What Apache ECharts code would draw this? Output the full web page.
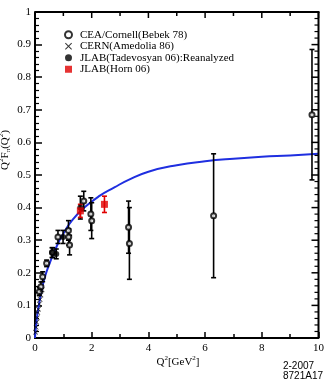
<!DOCTYPE html>
<html>
<head>
<meta charset="utf-8">
<script src="https://cdn.jsdelivr.net/npm/echarts@6/dist/echarts.min.js"></script>
<style>
  html, body { margin: 0; padding: 0; background: #fff; }
  #chart { width: 327px; height: 385px; }
</style>
</head>
<body>
<div id="chart"></div>
<script>
// CEA/Cornell (Bebek 78): Q2, Q2*F, error
const ceaQ2 = [0.15, 0.21, 0.27, 0.41, 0.62, 0.81, 1.18, 1.19, 1.22, 1.72, 1.97, 2.0, 3.3, 3.33, 6.3, 9.77];
const ceaF = [0.142, 0.157, 0.188, 0.229, 0.262, 0.31, 0.33, 0.31, 0.285, 0.42, 0.38, 0.36, 0.34, 0.29, 0.375, 0.685];
const ceaErr = [0.012, 0.015, 0.015, 0.01, 0.015, 0.02, 0.03, 0.025, 0.03, 0.03, 0.05, 0.055, 0.08, 0.11, 0.19, 0.2];

// CERN (Amedolia 86)
const cernQ2 = [0.02, 0.04, 0.06, 0.08, 0.1, 0.12, 0.15, 0.18, 0.21, 0.25];
const cernF = [0.018, 0.033, 0.048, 0.062, 0.078, 0.088, 0.104, 0.118, 0.132, 0.148];

// JLAB (Tadevosyan 06): Reanalyzed
const tadQ2 = [0.6, 0.75, 0.99, 1.6];
const tadF = [0.262, 0.258, 0.31, 0.40];
const tadErr = [0.015, 0.015, 0.02, 0.035];

// JLAB (Horn 06)
const hornQ2 = [1.6, 2.45];
const hornF = [0.39, 0.41];
const hornErr = [0.02, 0.025];

// model curve
const curveQ2 = [0, 0.02, 0.05, 0.1, 0.17, 0.25, 0.35, 0.52, 0.81, 1.0, 1.3, 1.74, 2.26, 2.8, 3.3, 4, 5, 6, 7, 8, 9, 10];
const curveF = [0, 0.022, 0.048, 0.082, 0.117, 0.152, 0.188, 0.23, 0.29, 0.32, 0.36, 0.40, 0.435, 0.462, 0.485, 0.51, 0.53, 0.542, 0.55, 0.556, 0.56, 0.565];

// tick values (also used for the mirrored ticks on the top and right frame)
const xTicks = [0, 2, 4, 6, 8, 10];
const xMinor = [1, 3, 5, 7, 9];
const yTicks = [0, 0.1, 0.2, 0.3, 0.4, 0.5, 0.6, 0.7, 0.8, 0.9, 1];
const yMinor = [];
yTicks.slice(0, -1).forEach(t => { for (let k = 1; k < 5; k++) yMinor.push(t + k * 0.02); });

const serif = '"Liberation Serif", "DejaVu Serif", serif';
const zip = (a, b) => a.map((v, i) => [v, b[i]]);
const errData = (q, f, e) => q.map((v, i) => [v, f[i] - e[i], f[i] + e[i]]);

function errorBars(color) {
  return function (params, api) {
    const lo = api.coord([api.value(0), api.value(1)]);
    const hi = api.coord([api.value(0), api.value(2)]);
    const cap = 2.5;
    const st = { stroke: color, lineWidth: 1.6 };
    return {
      type: 'group',
      children: [
        { type: 'line', shape: { x1: lo[0], y1: lo[1], x2: hi[0], y2: hi[1] }, style: st },
        { type: 'line', shape: { x1: lo[0] - cap, y1: lo[1], x2: lo[0] + cap, y2: lo[1] }, style: st },
        { type: 'line', shape: { x1: hi[0] - cap, y1: hi[1], x2: hi[0] + cap, y2: hi[1] }, style: st }
      ]
    };
  };
}

// top and right frame with inward ticks, placed through the axis scales
function frame(params, api) {
  const tl = api.coord([0, 1]);
  const br = api.coord([10, 0]);
  const top = tl[1], left = tl[0], right = br[0], bottom = br[1];
  const kids = [
    { type: 'line', shape: { x1: left, y1: top, x2: right + 1, y2: top }, style: { stroke: '#000', lineWidth: 2 } },
    { type: 'line', shape: { x1: right, y1: top, x2: right, y2: bottom }, style: { stroke: '#000', lineWidth: 2 } }
  ];
  const tick = (x1, y1, x2, y2, w) => kids.push({ type: 'line', shape: { x1, y1, x2, y2 }, style: { stroke: '#000', lineWidth: w } });
  xTicks.forEach(v => { const p = api.coord([v, 1]); tick(p[0], top, p[0], top + 6, 1.5); });
  xMinor.forEach(v => { const p = api.coord([v, 1]); tick(p[0], top, p[0], top + 4, 1.5); });
  yTicks.forEach(v => { const p = api.coord([10, v]); tick(right, p[1], right - 7, p[1], 1.5); });
  yMinor.forEach(v => { const p = api.coord([10, v]); tick(right, p[1], right - 4, p[1], 1.2); });
  return { type: 'group', children: kids };
}

const crossPath = 'path://M0,1L1,0L5,4L9,0L10,1L6,5L10,9L9,10L5,6L1,10L0,9L4,5Z';

const chart = echarts.init(document.getElementById('chart'));

chart.setOption({
  animation: false,
  backgroundColor: '#fff',
  grid: { left: 35, right: 5, top: 12, bottom: 47 },
  legend: {
    orient: 'vertical',
    left: 59,
    top: 24,
    itemWidth: 7,
    itemHeight: 7,
    itemGap: 0,
    textStyle: { fontFamily: serif, fontSize: 11, color: '#000', lineHeight: 11.5, padding: [0, 0, 0, 3] },
    data: [
      { name: 'CEA/Cornell(Bebek 78)', icon: 'emptyCircle' },
      { name: 'CERN(Amedolia 86)', icon: crossPath },
      { name: 'JLAB(Tadevosyan 06):Reanalyzed', icon: 'circle' },
      { name: 'JLAB(Horn 06)', icon: 'rect' }
    ]
  },
  xAxis: {
    type: 'value', min: 0, max: 10, interval: 2,
    axisLine: { show: true, onZero: false, lineStyle: { color: '#000', width: 2 } },
    splitLine: { show: false },
    axisTick: { show: true, inside: true, length: 6, lineStyle: { width: 1.5, color: '#000' } },
    minorTick: { show: true, splitNumber: 2, length: 4, lineStyle: { width: 1.5, color: '#000' } },
    axisLabel: { color: '#000', fontFamily: serif, fontSize: 11, margin: 5 }
  },
  yAxis: {
    type: 'value', min: 0, max: 1, interval: 0.1,
    axisLine: { show: true, onZero: false, lineStyle: { color: '#000', width: 2 } },
    splitLine: { show: false },
    axisTick: { show: true, inside: true, length: 7, lineStyle: { width: 1.5, color: '#000' } },
    minorTick: { show: true, splitNumber: 5, length: 4, lineStyle: { width: 1.2, color: '#000' } },
    axisLabel: {
      color: '#000', fontFamily: serif, fontSize: 11, margin: 4,
      formatter: v => (yTicks.indexOf(Math.round(v * 10) / 10) >= 0 ? String(Math.round(v * 10) / 10) : '')
    }
  },
  series: [
    { name: 'frame', type: 'custom', renderItem: frame, data: [[5, 0.5]], silent: true, clip: false, z: 5 },
    {
      name: 'curve', type: 'line', data: zip(curveQ2, curveF), showSymbol: false, smooth: true,
      lineStyle: { color: '#1f2fe0', width: 2 }, z: 1
    },
    { name: 'ceaErr', type: 'custom', renderItem: errorBars('#000'), data: errData(ceaQ2, ceaF, ceaErr), z: 2 },
    { name: 'tadErr', type: 'custom', renderItem: errorBars('#000'), data: errData(tadQ2, tadF, tadErr), z: 2 },
    { name: 'hornErr', type: 'custom', renderItem: errorBars('#e00000'), data: errData(hornQ2, hornF, hornErr), z: 2 },
    {
      name: 'CEA/Cornell(Bebek 78)', type: 'scatter', data: zip(ceaQ2, ceaF), symbol: 'emptyCircle', symbolSize: 5,
      itemStyle: { color: '#000', borderColor: '#000', borderWidth: 2 }, z: 3
    },
    {
      name: 'CERN(Amedolia 86)', type: 'scatter', data: zip(cernQ2, cernF), symbol: crossPath, symbolSize: 5,
      itemStyle: { color: '#000' }, z: 3
    },
    {
      name: 'JLAB(Tadevosyan 06):Reanalyzed', type: 'scatter', data: zip(tadQ2, tadF), symbol: 'circle', symbolSize: 6,
      itemStyle: { color: '#000' }, z: 3
    },
    {
      name: 'JLAB(Horn 06)', type: 'scatter', data: zip(hornQ2, hornF), symbol: 'rect', symbolSize: 7,
      itemStyle: { color: '#e00000' }, z: 4
    }
  ],
  graphic: [
    {
      type: 'text', x: 5, y: 150, rotation: Math.PI / 2,
      style: {
        text: '{b|Q}{s|2}{b|F}{u|π}{b|(Q}{s|2}{b|)}',
        align: 'center', verticalAlign: 'middle', fill: '#000',
        rich: {
          b: { fontFamily: serif, fontSize: 11, lineHeight: 14, verticalAlign: 'middle' },
          s: { fontFamily: serif, fontSize: 7, verticalAlign: 'top', lineHeight: 14 },
          u: { fontFamily: serif, fontSize: 7, verticalAlign: 'bottom', lineHeight: 14 }
        }
      }
    },
    {
      type: 'text', x: 178, y: 362,
      style: {
        text: '{b|Q}{s|2}{b|[GeV}{s|2}{b|]}',
        align: 'center', verticalAlign: 'middle', fill: '#000',
        rich: {
          b: { fontFamily: serif, fontSize: 11, lineHeight: 14, verticalAlign: 'middle' },
          s: { fontFamily: serif, fontSize: 7, verticalAlign: 'top', lineHeight: 14 }
        }
      }
    },
    {
      type: 'text', right: 4, top: 361,
      style: { text: '2-2007\n8721A17', align: 'right', fill: '#000', font: '10px "Liberation Sans", sans-serif', lineHeight: 10 }
    }
  ]
});
</script>
</body>
</html>
